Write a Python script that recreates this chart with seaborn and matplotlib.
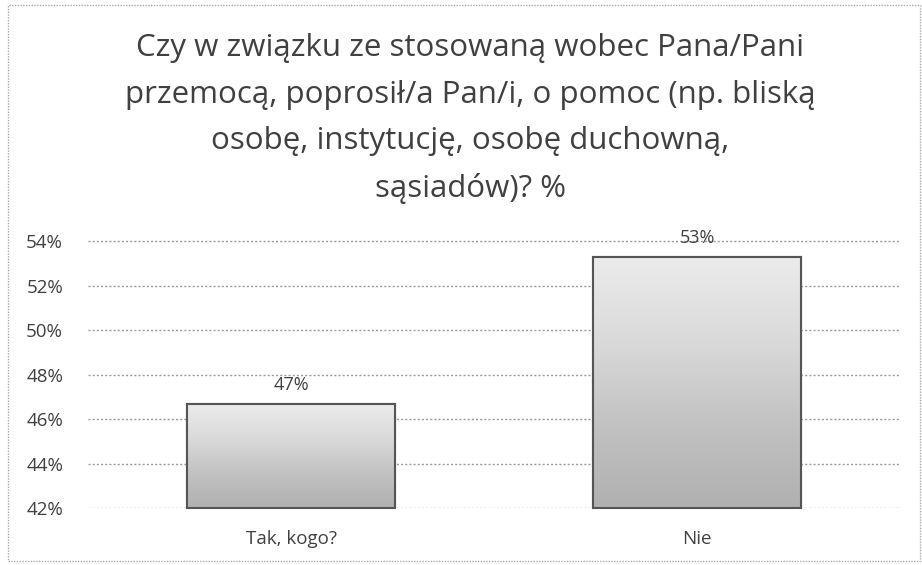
import numpy as np
import pandas as pd
import matplotlib
matplotlib.use("Agg")
import matplotlib.pyplot as plt
import seaborn as sns
from matplotlib.colors import LinearSegmentedColormap
from matplotlib.patches import Rectangle

categories = ["Tak, kogo?", "Nie"]
values = [46.7, 53.3]
labels = ["47%", "53%"]
yticks = [42, 44, 46, 48, 50, 52, 54]
title = ("Czy w związku ze stosowaną wobec Pana/Pani\n"
         "przemocą, poprosił/a Pan/i, o pomoc (np. bliską\n"
         "osobę, instytucję, osobę duchowną,\n"
         "sąsiadów)? %")

sns.set_style("white")
plt.rcParams['font.family'] = ['Open Sans', 'DejaVu Sans']

fig = plt.figure(figsize=(9.22, 5.65), dpi=100)
ax = fig.add_axes([88/922, 1 - 508/565, (900-88)/922, (508-228)/565])

df = pd.DataFrame({"cat": categories, "val": values})
sns.barplot(data=df, x="cat", y="val", ax=ax, width=0.51, color="#cccccc",
            edgecolor="#555555", linewidth=1.5, zorder=3)

ax.set_ylim(42, 54.6)
ax.set_xlim(-0.5, 1.5)
ax.set_yticks(yticks)
ax.set_yticklabels([f"{t}%" for t in yticks], color="#404040", fontsize=13.5)
ax.tick_params(axis='x', colors="#404040", labelsize=13.5, length=0, pad=16)
ax.tick_params(axis='y', length=0, pad=18)
ax.set_xlabel("")
ax.set_ylabel("")
for s in ax.spines.values():
    s.set_visible(False)
ax.yaxis.grid(True, linestyle=(0, (1.5, 1.5)), color="#9a9a9a", linewidth=1.0, zorder=0)
ax.set_axisbelow(True)

cmap = LinearSegmentedColormap.from_list("g", ["#b0b0b0", "#c2c2c2", "#dadada", "#ececec"])
grad = np.linspace(0, 1, 256).reshape(-1, 1)
for p, lab in zip(ax.patches, labels):
    x0, y0 = p.get_x(), p.get_y()
    w, h = p.get_width(), p.get_height()
    y0c = 42
    im = ax.imshow(grad, extent=[x0, x0 + w, y0c, y0 + h], origin="lower",
                   cmap=cmap, aspect="auto", zorder=3.5)
    im.set_clip_path(p)
    ax.add_patch(Rectangle((x0, y0c), w, y0 + h - y0c, fill=False,
                           edgecolor="#555555", linewidth=1.5, zorder=4, clip_on=False))
    ax.text(x0 + w / 2, y0 + h + 0.45, lab, ha="center", va="bottom",
            fontsize=13, color="#404040", zorder=5)

fig.text(0.51, 1 - 33/565, title, ha="center", va="top", fontsize=22.5,
         color="#404040", linespacing=1.72)

fig.add_artist(Rectangle((8/922, 4/565), 912/922, 556/565, transform=fig.transFigure,
                         fill=False, edgecolor="#aaaaaa", linewidth=1.0, linestyle=(0, (1, 1))))

fig.savefig("out.png", dpi=100, facecolor="white")
